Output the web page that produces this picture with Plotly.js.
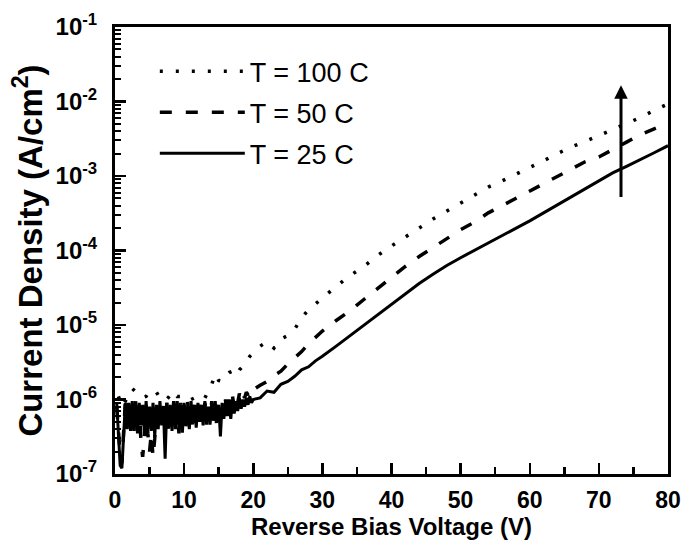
<!DOCTYPE html>
<html>
<head>
<meta charset="utf-8">
<script src="https://cdn.plot.ly/plotly-3.0.1.min.js"></script>
<style>html,body{margin:0;padding:0;background:#fff;}#chart{width:682px;height:541px;}</style>
</head>
<body>
<div id="chart"></div>
<script>
// ---- Data ----
const seriesNames = ["T = 100 C", "T = 50 C", "T = 25 C"];

// Voltage grids
const voltsFine = [0.25,0.5,0.75,1,1.25,1.5,1.75,2,2.25,2.5,2.75,3,3.25,3.5,3.75,4,4.25,4.5,4.75,5,
  5.25,5.5,5.75,6,6.25,6.5,6.75,7,7.25,7.5,7.75,8,8.25,8.5,8.75,9,9.25,9.5,9.75,10,
  10.25,10.5,10.75,11,11.25,11.5,11.75,12,12.25,12.5,12.75,13,13.25,13.5,13.75,14,14.25,14.5,14.75,15,
  15.25,15.5,15.75,16,16.25,16.5,16.75,17,17.25,17.5,17.75,18,18.25,18.5,18.75,19,19.25,19.5,19.75,20];
const voltsHalf = [0.5,1,1.5,2,2.5,3,3.5,4,4.5,5,5.5,6,6.5,7,7.5,8,8.5,9,9.5,10,
  10.5,11,11.5,12,12.5,13,13.5,14,14.5,15,15.5,16,16.5,17,17.5,18,18.5,19,19.5,20];
const voltsMid = [21,22,23,24,25,26,27,28,29,30];
const voltsHigh = [32,34,36,38,40,42,44,46,48,50,52,54,56,58,60,62,64,66,68,70,72,74,76,78,80];

// T = 25 C (A/cm^2)
const j25Low = [9.0e-7,3.0e-7,1.3e-7,1.2e-7,3.0e-7,9.0e-7,4.0e-7,8.5e-7,3.8e-7,9.5e-7,
  4.2e-7,8.0e-7,3.5e-7,9.0e-7,4.5e-7,8.5e-7,3.6e-7,9.5e-7,4.0e-7,8.0e-7,
  3.8e-7,9.0e-7,3.2e-7,8.5e-7,4.0e-7,9.5e-7,4.5e-7,8.0e-7,1.6e-7,9.0e-7,
  4.2e-7,8.5e-7,3.8e-7,9.0e-7,4.5e-7,9.5e-7,4.0e-7,8.5e-7,3.6e-7,9.0e-7,
  4.5e-7,8.0e-7,4.0e-7,9.5e-7,4.8e-7,8.5e-7,4.2e-7,9.0e-7,5.0e-7,8.5e-7,
  4.5e-7,9.5e-7,5.0e-7,8.0e-7,4.6e-7,9.0e-7,5.2e-7,9.5e-7,5.0e-7,8.5e-7,
  3.2e-7,9.0e-7,5.5e-7,9.5e-7,6.0e-7,9.0e-7,5.5e-7,1.0e-6,6.5e-7,9.5e-7,
  7.0e-7,1.05e-6,7.5e-7,1.0e-6,8.0e-7,1.05e-6,8.5e-7,1.1e-6,9.0e-7,1.0e-6];
const j25Mid = [1.05e-6,1.3e-6,1.25e-6,1.6e-6,1.75e-6,2.05e-6,2.5e-6,2.75e-6,3.3e-6,3.8e-6];
const j25High = [5.2e-6,7.2e-6,9.8e-6,1.35e-5,1.9e-5,2.65e-5,3.6e-5,4.8e-5,6.3e-5,8.0e-5,
  1.0e-4,1.28e-4,1.6e-4,2.0e-4,2.5e-4,3.2e-4,4.1e-4,5.3e-4,6.7e-4,8.5e-4,
  1.1e-3,1.35e-3,1.65e-3,2.05e-3,2.55e-3];

// T = 50 C
const j50Low = [8.0e-7,4.0e-7,1.8e-7,1.4e-7,4.5e-7,9.5e-7,4.5e-7,9.0e-7,4.0e-7,8.5e-7,
  3.8e-7,9.5e-7,4.5e-7,8.5e-7,2.8e-7,1.7e-7,3.0e-7,8.5e-7,3.5e-7,2.0e-7,
  3.5e-7,1.7e-7,3.0e-7,9.0e-7,4.0e-7,9.5e-7,4.5e-7,8.5e-7,4.0e-7,9.0e-7,
  3.8e-7,8.5e-7,4.5e-7,9.5e-7,4.0e-7,8.0e-7,3.5e-7,9.0e-7,4.5e-7,8.5e-7,
  4.2e-7,9.5e-7,4.5e-7,8.5e-7,4.0e-7,9.0e-7,5.0e-7,8.5e-7,4.5e-7,9.5e-7,
  5.0e-7,9.0e-7,4.6e-7,8.5e-7,5.5e-7,9.5e-7,5.0e-7,9.0e-7,4.0e-7,8.5e-7,
  5.5e-7,9.5e-7,6.0e-7,1.0e-6,6.5e-7,1.0e-6,7.5e-7,1.1e-6,8.0e-7,1.1e-6,
  9.0e-7,1.2e-6,1.0e-6,1.2e-6,1.05e-6,1.25e-6,1.15e-6,1.3e-6,1.2e-6,1.35e-6];
const j50Mid = [1.55e-6,1.75e-6,2.1e-6,2.4e-6,3.0e-6,3.6e-6,4.4e-6,5.6e-6,6.8e-6,8.3e-6];
const j50High = [1.15e-5,1.55e-5,2.2e-5,3.1e-5,4.4e-5,6.1e-5,8.3e-5,1.1e-4,1.45e-4,1.9e-4,
  2.4e-4,3.2e-4,4.0e-4,5.0e-4,6.4e-4,8.0e-4,1.0e-3,1.25e-3,1.55e-3,1.8e-3,
  2.3e-3,2.85e-3,3.6e-3,4.3e-3,5.1e-3];

// T = 100 C
const j100Low = [1.1e-6,8.0e-7,9.5e-7,1.2e-6,1.4e-6,1.25e-6,1.15e-6,1.05e-6,1.1e-6,1.3e-6,
  1.2e-6,1.25e-6,1.05e-6,1.1e-6,1.0e-6,1.15e-6,1.3e-6,1.1e-6,1.1e-6,1.05e-6,
  1.1e-6,1.0e-6,1.05e-6,1.0e-6,1.1e-6,1.05e-6,1.3e-6,1.6e-6,2.2e-6,1.8e-6,
  1.75e-6,2.1e-6,2.3e-6,2.4e-6,2.1e-6,2.5e-6,2.8e-6,3.3e-6,3.8e-6,4.2e-6];
const j100Mid = [5.2e-6,6.0e-6,4.9e-6,6.5e-6,7.2e-6,8.8e-6,1.25e-5,1.6e-5,1.9e-5,2.3e-5];
const j100High = [3.3e-5,4.6e-5,6.1e-5,8.6e-5,1.15e-4,1.5e-4,2.0e-4,2.65e-4,3.4e-4,4.35e-4,
  5.5e-4,7.1e-4,8.6e-4,1.05e-3,1.3e-3,1.6e-3,2.0e-3,2.45e-3,2.9e-3,3.5e-3,
  4.2e-3,5.1e-3,6.1e-3,7.6e-3,9.3e-3];

// Axis ticks
const yTickVals = [1e-7,1e-6,1e-5,1e-4,1e-3,1e-2,1e-1];
const yTickText = ["10<sup>-7</sup>","10<sup>-6</sup>","10<sup>-5</sup>","10<sup>-4</sup>","10<sup>-3</sup>","10<sup>-2</sup>","10<sup>-1</sup>"];
const xTickVals = [0,10,20,30,40,50,60,70,80];

// Arrow (marks increasing temperature)
const arrowV = 73.2, arrowFrom = 5.0e-4, arrowTo = 1.65e-2;

// ---- Build traces ----
const FONT = "Liberation Sans, Arial, sans-serif";
const traces = [
  {x: voltsHalf.concat(voltsMid, voltsHigh), y: j100Low.concat(j100Mid, j100High),
   name: seriesNames[0], legendgroup: "a", mode: "lines",
   line: {color: "#000", width: 3.5, dash: "3px,13px"}},
  {x: voltsFine.concat(voltsMid, voltsHigh), y: j50Low.concat(j50Mid, j50High),
   name: seriesNames[1], legendgroup: "b", mode: "lines",
   line: {color: "#000", width: 3.5, dash: "12px,14px"}},
  {x: voltsFine.concat(voltsMid, voltsHigh), y: j25Low.concat(j25Mid, j25High),
   name: seriesNames[2], legendgroup: "c", mode: "lines",
   line: {color: "#000", width: 3}}
];

// minor log ticks (2..9 per decade)
const minorVals = [];
for (let e = -7; e < -1; e++) { for (let m = 2; m <= 9; m++) minorVals.push(m * Math.pow(10, e)); }

const layout = {
  width: 682, height: 541,
  margin: {l: 115, r: 14, t: 27, b: 67},
  paper_bgcolor: "#fff", plot_bgcolor: "#fff",
  showlegend: true,
  legend: {x: 0.072, y: 0.955, xanchor: "left", yanchor: "top", bgcolor: "rgba(0,0,0,0)",
    font: {family: FONT, size: 27, color: "#000"},
    itemwidth: 85, tracegroupgap: 3, traceorder: "grouped"},
  xaxis: {
    range: [0, 80], tickmode: "array", tickvals: xTickVals,
    showline: true, linewidth: 3, linecolor: "#000", mirror: true,
    ticks: "inside", ticklen: 11, tickwidth: 2.5, tickcolor: "#000",
    minor: {ticks: "inside", ticklen: 7, tickwidth: 2.5, tickcolor: "#000", dtick: 5, showgrid: false},
    showgrid: false, zeroline: false,
    tickfont: {family: FONT, size: 23, color: "#000", weight: "bold"}, ticklabelstandoff: 3,
    title: {text: "<b>Reverse Bias Voltage (V)</b>", font: {family: FONT, size: 24, color: "#000"}, standoff: 4}
  },
  yaxis: {
    type: "log", range: [-7, -1], tickmode: "array", tickvals: yTickVals, ticktext: yTickText,
    showline: true, linewidth: 3, linecolor: "#000", mirror: true,
    ticks: "inside", ticklen: 11, tickwidth: 2.5, tickcolor: "#000",
    minor: {ticks: "inside", ticklen: 6, tickwidth: 2, tickcolor: "#000", tickmode: "array", tickvals: minorVals, showgrid: false},
    showgrid: false, zeroline: false,
    tickfont: {family: FONT, size: 24, color: "#000", weight: "bold"}, ticklabelstandoff: 10,
    title: {text: "<b>Current Density (A/cm<sup>2</sup>)</b>", font: {family: FONT, size: 33, color: "#000"}, standoff: 4}
  },
  annotations: [{
    x: arrowV, y: Math.log10(arrowTo), ax: arrowV, ay: Math.log10(arrowFrom),
    xref: "x", yref: "y", axref: "x", ayref: "y",
    showarrow: true, arrowhead: 2, arrowsize: 0.9, arrowwidth: 3, arrowcolor: "#000", text: ""
  }]
};

Plotly.newPlot("chart", traces, layout, {staticPlot: true, displayModeBar: false});
</script>
</body>
</html>
